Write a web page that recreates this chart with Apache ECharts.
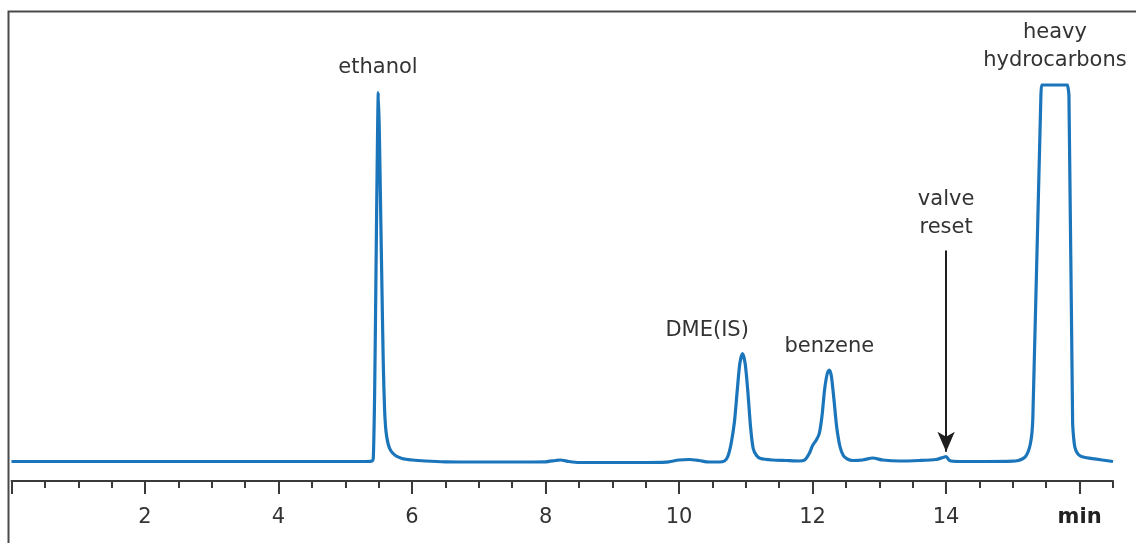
<!DOCTYPE html>
<html>
<head>
<meta charset="utf-8">
<title>Chromatogram</title>
<style>
  html, body { margin: 0; padding: 0; background: #fff; }
  #chart { width: 1136px; height: 543px; }
</style>
<script src="https://cdn.jsdelivr.net/npm/echarts@6/dist/echarts.min.js"></script>
</head>
<body>
<div id="chart"></div>
<script>
// detector signal: [time (min), response]
const trace = [
  [0, 0], [1, 0], [2, 0], [3, 0], [4, 0], [5, 0], [5.3, 0], [5.4, 0.5],
  [5.42, 4], [5.44, 70], [5.46, 190], [5.48, 310], [5.495, 369], [5.51, 330],
  [5.53, 250], [5.55, 170], [5.57, 95], [5.59, 50], [5.61, 30], [5.64, 18],
  [5.68, 11], [5.75, 6], [5.85, 3], [6.0, 1.5], [6.2, 0.5], [6.5, -0.3],
  [7.0, -0.5], [7.5, -0.5], [8.0, -0.3], [8.15, 1], [8.22, 1.5], [8.35, 0],
  [8.5, -1], [9.0, -1], [9.5, -1], [9.8, -0.7], [10.0, 1.5], [10.15, 2],
  [10.3, 1], [10.45, -0.5], [10.6, -0.5], [10.68, 0.5], [10.73, 5], [10.78, 18],
  [10.83, 40], [10.87, 70], [10.91, 98], [10.95, 108], [10.99, 98], [11.03, 70],
  [11.07, 35], [11.11, 13], [11.16, 6], [11.22, 3], [11.4, 1.5], [11.6, 1],
  [11.8, 0.5], [11.88, 1.5], [11.95, 8], [12.0, 16], [12.06, 22], [12.1, 28],
  [12.14, 45], [12.18, 72], [12.22, 88], [12.25, 91.5], [12.28, 86], [12.32, 62],
  [12.36, 35], [12.41, 15], [12.46, 6], [12.52, 2.5], [12.6, 1], [12.75, 1.5],
  [12.9, 3.5], [13.05, 1.5], [13.3, 0.5], [13.6, 1], [13.85, 2], [13.95, 4],
  [14.0, 5], [14.05, 1], [14.2, 0], [14.6, 0], [15.0, 0.3], [15.08, 1],
  [15.14, 2.5], [15.19, 5], [15.23, 10], [15.26, 17], [15.285, 28], [15.3, 45],
  [15.42, 366], [15.43, 376.5], [15.44, 376.5],
  [15.82, 376.5], [15.83, 376.5], [15.84, 366], [15.895, 40], [15.91, 24],
  [15.93, 14], [15.96, 9], [16.0, 6], [16.05, 4.5], [16.2, 2.8], [16.5, 0]
];

const majorTicks = [0, 2, 4, 6, 8, 10, 12, 14, 16];
const minorTicks = [0.5, 1, 1.5, 2.5, 3, 3.5, 4.5, 5, 5.5, 6.5, 7, 7.5, 8.5, 9, 9.5,
  10.5, 11, 11.5, 12.5, 13, 13.5, 14.5, 15, 15.5, 16.5];
const tickLabelValues = [2, 4, 6, 8, 10, 12, 14, 16];
const tickLabelTexts = ['2', '4', '6', '8', '10', '12', '14', 'min'];

const peakNames = ['ethanol', 'DME(IS)', 'benzene', 'valve\nreset', 'heavy\nhydrocarbons'];
const peakLabelAt = [[5.49, 393.5], [10.42, 130.5], [12.25, 114.5], [14.0, 247.5], [15.63, 414.5]];

const valveArrow = [[14, 211], [14, 9.8]];

const X_MIN = 0, X_MAX = 16.5;
const FONT = '"DejaVu Sans", Verdana, sans-serif';

const chart = echarts.init(document.getElementById('chart'));

const option = {
  animation: false,
  backgroundColor: '#fff',
  grid: { left: 11.5, right: 23, top: 11, bottom: 62, containLabel: false },
  graphic: [{
    type: 'polyline',
    shape: { points: [[8.5, 543], [8.5, 11.5], [1136, 11.5]] },
    style: { stroke: '#4a4a4a', lineWidth: 2, fill: null },
    silent: true
  }],
  xAxis: [
    {
      type: 'value',
      min: X_MIN,
      max: X_MAX,
      position: 'bottom',
      axisLine: { show: true, onZero: false, lineStyle: { color: '#3a3a3a', width: 2 } },
      axisTick: { show: true, inside: false, length: 13, customValues: majorTicks,
        lineStyle: { color: '#3a3a3a', width: 2 } },
      axisLabel: {
        show: true,
        customValues: tickLabelValues,
        margin: 26,
        color: '#333',
        fontSize: 21,
        fontFamily: FONT,
        formatter: (v) => {
          const i = tickLabelValues.indexOf(v);
          const t = i >= 0 ? tickLabelTexts[i] : '';
          return t === 'min' ? '{b|min}' : t;
        },
        rich: { b: { fontWeight: 'bold', fontSize: 21, color: '#222', fontFamily: FONT } }
      },
      splitLine: { show: false }
    },
    {
      type: 'value',
      min: X_MIN,
      max: X_MAX,
      position: 'bottom',
      axisLine: { show: false, onZero: false },
      axisTick: { show: true, inside: false, length: 7, customValues: minorTicks,
        lineStyle: { color: '#3a3a3a', width: 2 } },
      axisLabel: { show: false },
      splitLine: { show: false }
    }
  ],
  yAxis: {
    type: 'value',
    min: -19.5,
    max: 450.5,
    show: false,
    splitLine: { show: false }
  },
  series: [{
    type: 'line',
    data: trace,
    showSymbol: false,
    smooth: 0.25,
    lineStyle: { color: '#1b75bb', width: 3.2 },
    silent: true,
    markPoint: {
      symbol: 'circle',
      symbolSize: 1,
      silent: true,
      itemStyle: { color: 'rgba(0,0,0,0)' },
      label: {
        show: true,
        position: 'inside',
        color: '#333',
        fontSize: 21,
        lineHeight: 28,
        fontFamily: FONT,
        formatter: (p) => p.name
      },
      data: peakNames.map((n, i) => ({ name: n, coord: peakLabelAt[i] }))
    },
    markLine: {
      silent: true,
      symbol: ['none', 'arrow'],
      symbolSize: [13, 20],
      label: { show: false },
      lineStyle: { color: '#1e1e1e', width: 2, type: 'solid' },
      emphasis: { disabled: true },
      data: [[{ coord: valveArrow[0] }, { coord: valveArrow[1] }]]
    }
  }]
};

chart.setOption(option);
</script>
</body>
</html>
